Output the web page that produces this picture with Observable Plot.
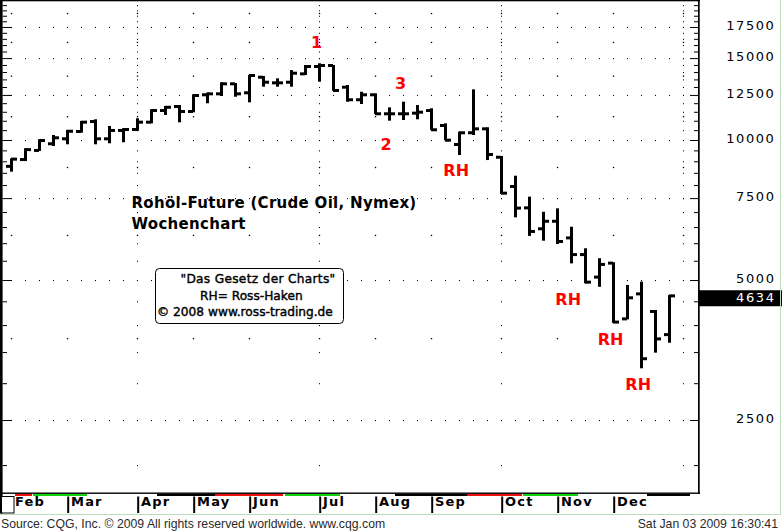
<!DOCTYPE html>
<html><head><meta charset="utf-8">
<script src="https://cdn.jsdelivr.net/npm/d3@7"></script>
<script src="https://cdn.jsdelivr.net/npm/@observablehq/plot@0.6"></script>
<style>
html,body{margin:0;padding:0;background:#fff;}
#chart{width:782px;height:532px;overflow:hidden;}
</style></head><body><div id="chart"></div>
<script>
// ---- data ----
const weeks = ["2008-02-04","2008-02-11","2008-02-18","2008-02-25","2008-03-03","2008-03-10","2008-03-17","2008-03-24","2008-03-31","2008-04-07","2008-04-14","2008-04-21","2008-04-28","2008-05-05","2008-05-12","2008-05-19","2008-05-26","2008-06-02","2008-06-09","2008-06-16","2008-06-23","2008-06-30","2008-07-07","2008-07-14","2008-07-21","2008-07-28","2008-08-04","2008-08-11","2008-08-18","2008-08-25","2008-09-01","2008-09-08","2008-09-15","2008-09-22","2008-09-29","2008-10-06","2008-10-13","2008-10-20","2008-10-27","2008-11-03","2008-11-10","2008-11-17","2008-11-24","2008-12-01","2008-12-08","2008-12-15","2008-12-22","2008-12-29"];
const open  = [8800,9100,9520,9840,10085,10455,10985,10085,10510,10560,10950,11600,11835,11545,12540,12600,13240,12665,13680,13305,13345,13910,14425,14495,13020,12235,12540,11415,11415,11450,11600,10770,9805,10390,10595,9205,7965,7165,6460,6705,6175,5685,5085,5450,4135,4680,4290,3825];
const high  = [9130,9600,10035,10250,10510,10990,11080,10720,10600,11135,11640,11835,11890,12540,12640,13305,13260,13810,13730,13570,14140,14495,14620,14500,13130,12700,12600,11755,12090,11890,11700,10860,10420,12850,10650,9240,8380,7555,7010,7130,6510,5850,5570,5460,4880,4960,4310,4640];
const low   = [8550,9010,9470,9710,9790,10370,9790,9840,9890,10470,10860,11320,10915,11470,11995,12435,12390,12050,13020,13020,13020,13795,13345,12765,12090,11950,11375,11005,11040,11080,10510,9985,9285,10250,9055,7655,6820,6220,6075,5975,5430,4920,4835,4045,4115,3230,3490,3665];
const close = [9120,9560,10000,10135,10470,10950,10085,10510,10560,10950,11600,11790,11545,12495,12600,13240,12600,13795,13345,13305,13955,14425,14495,12810,12235,12540,11415,11415,11415,11505,10545,10015,10390,10595,9330,7705,7155,6375,6705,6065,5685,4960,5415,4070,4590,3395,3745,4634];
const lastPrice = 4634;

const monthStarts = ["2008-02-04","2008-03-03","2008-04-07","2008-05-05","2008-06-02","2008-07-07","2008-08-04","2008-09-01","2008-10-06","2008-11-03","2008-12-01"];
const monthNames  = ["Feb","Mar","Apr","May","Jun","Jul","Aug","Sep","Oct","Nov","Dec"];
const gridWeeks = weeks.concat(["2009-01-05"]);
const gridMonths = monthStarts.concat(["2009-01-05"]);
const quarterStarts = ["2008-04-07","2008-07-07","2008-10-06","2009-01-05"];

const axisValues = [17500,15000,12500,10000,7500,5000,2500];
const axisLabels = ["17500","15000","12500","10000","7500","5000","2500"];
const minorGridValues = [3750,6250,8750,11250,13750,16250,18750];
const tickValues = [2000,2500,3000,3500,4000,4500,5000,5500,6000,6500,7000,7500,8000,8500,9000,9500,10000,10500,11000,11500,12000,12500,13000,13500,14000,14500,15000,15500,16000,16500,17000,17500,18000,18500,19000,19500];

const stripStart = ["2008-02-06","2008-02-15","2008-03-13T12:00Z","2008-04-17","2008-05-16","2008-06-20","2008-07-17T12:00Z","2008-08-14","2008-09-19","2008-10-17","2008-11-13T12:00Z","2008-12-18"];
const stripEnd   = ["2008-02-14T12:00Z","2008-03-13","2008-04-17","2008-05-16","2008-06-19","2008-07-17T12:00Z","2008-08-14","2008-09-19","2008-10-16T12:00Z","2008-11-13T12:00Z","2008-12-18","2009-01-08T12:00Z"];
const stripColor = ["#e81010","#10d010","#ffffff","#000000","#e81010","#10d010","#ffffff","#000000","#e81010","#10d010","#ffffff","#000000"];

const annLabels = ["1","2","3","RH","RH","RH","RH"];
const annDates  = ["2008-07-05T12:00Z","2008-08-09T08:00Z","2008-08-16T12:00Z","2008-09-13T08:00Z","2008-11-08T08:00Z","2008-11-29T12:00Z","2008-12-13T08:00Z"];
const annValues = [16240,9800,13260,8620,4551,3728,2984];

const titleLines = ["Rohöl-Future (Crude Oil, Nymex)","Wochenchart"];
const boxLines = ["\"Das Gesetz der Charts\"","RH= Ross-Haken","© 2008 www.ross-trading.de"];
const sourceText = "Source: CQG, Inc. © 2009 All rights reserved worldwide. www.cqg.com";
const stampText = "Sat Jan 03 2009 16:30:41";

// ---- build ----
const DAY = 864e5;
const D = s => new Date(s);
const bars = weeks.map((w,i)=>({date: D(w), open: open[i], high: high[i], low: low[i], close: close[i]}));
const strip = stripStart.map((s,i)=>({x1: D(s), x2: D(stripEnd[i]), color: stripColor[i]}));
const anns = annLabels.map((t,i)=>({text: t, date: D(annDates[i]), value: annValues[i]}));
const majorDots = d3.cross(gridWeeks, axisValues).map(([w,v])=>({date: D(w), value: v}));
const minorDots = d3.cross(gridMonths, minorGridValues).map(([w,v])=>({date: D(w), value: v}));
const vertDots = d3.cross(quarterStarts, tickValues).map(([w,v])=>({date: D(w), value: v}));
const majorSet = new Set(axisValues);
const boxText = {frameAnchor: "top-left", lineAnchor: "middle", textAnchor: "start", fontSize: 12.2, fill: "black", stroke: "black", strokeWidth: 0.4};

const chart = Plot.plot({
  width: 782, height: 532,
  marginLeft: 5, marginRight: 85, marginTop: 0, marginBottom: 39,
  style: {background: "white", fontFamily: "DejaVu Sans", overflow: "visible"},
  x: {type: "utc", domain: [D("2008-02-01"), D("2009-01-12")], axis: null},
  y: {type: "log", domain: [1742, 20000], axis: null},
  color: {type: "identity"},
  marks: [
    Plot.dot(majorDots, {x: "date", y: "value", symbol: "square", r: 0.6, fill: "black", stroke: "none"}),
    Plot.dot(minorDots, {x: "date", y: "value", symbol: "square", r: 0.75, fill: "black", stroke: "none"}),
    Plot.dot(vertDots, {x: "date", y: "value", symbol: "square", r: 0.6, fill: "black", stroke: "none"}),
    // axis ticks left/right
    Plot.ruleY(tickValues.filter(v=>!majorSet.has(v)), {stroke: "black", insetLeft: -2.5, insetRight: 690}),
    Plot.ruleY(axisValues, {stroke: "black", insetLeft: -2.5, insetRight: 686}),
    Plot.ruleY(tickValues.filter(v=>!majorSet.has(v)), {stroke: "black", insetLeft: 689, insetRight: -1}),
    Plot.ruleY(axisValues, {stroke: "black", insetLeft: 685, insetRight: -1}),
    // OHLC bars
    Plot.ruleX(bars, {x: "date", y1: "low", y2: "high", stroke: "black", strokeWidth: 3}),
    Plot.ruleY(bars, {y: "open", x1: d => new Date(+d.date - 2.5*DAY), x2: "date", stroke: "black", strokeWidth: 3}),
    Plot.ruleY(bars, {y: "close", x1: "date", x2: d => new Date(+d.date + 3*DAY), stroke: "black", strokeWidth: 3}),
    // contract strip
    Plot.rect(strip, {x1: "x1", x2: "x2", fill: "color", insetTop: 493.7, insetBottom: -3}),
    // month separators & labels
    Plot.ruleX(monthStarts.slice(1).map(D), {x: d => d, dx: 0.7, stroke: "black", strokeWidth: 2, insetTop: 496.5, insetBottom: -20}),
    Plot.text(monthStarts.map(D), {x: d => d, text: (d,i) => monthNames[i], frameAnchor: "bottom", dy: 12, dx: 3.5, textAnchor: "start", fontWeight: "bold", fontSize: 13, fill: "black"}),
    // right price labels
    Plot.text(axisValues, {y: d => d, text: (d,i) => axisLabels[i], frameAnchor: "right", dx: 78, dy: -1.5, textAnchor: "end", fontSize: 13, fill: "black"}),
    Plot.ruleY([lastPrice], {stroke: "black", strokeWidth: 16, dy: 2.5, insetLeft: 694, insetRight: -85}),
    Plot.text([lastPrice], {y: d => d, text: d => String(d), frameAnchor: "right", dx: 78, dy: 2, textAnchor: "end", fontSize: 13, fill: "white"}),
    // annotations
    Plot.text(anns, {x: "date", y: "value", text: "text", fill: "#ff0000", fontWeight: "bold", fontSize: 16}),
    // title
    Plot.text([titleLines[0]], {frameAnchor: "top-left", dx: 126, dy: 203, lineAnchor: "middle", textAnchor: "start", fontWeight: "bold", fontSize: 15, fill: "black"}),
    Plot.text([titleLines[1]], {frameAnchor: "top-left", dx: 126, dy: 224, lineAnchor: "middle", textAnchor: "start", fontWeight: "bold", fontSize: 15, fill: "black"}),
    // info box
    Plot.rect([0], {insetLeft: 150.5, insetRight: 353.5, insetTop: 268.5, insetBottom: 169.5, rx: 4, fill: "white", stroke: "black"}),
    Plot.text([boxLines[0]], {...boxText, dx: 175, dy: 279}),
    Plot.text([boxLines[1]], {...boxText, dx: 194.5, dy: 295.5}),
    Plot.text([boxLines[2]], {...boxText, dx: 151.5, dy: 311.5})
  ]
});
document.getElementById("chart").appendChild(chart);

const svg = d3.select(chart);
// letter spacing for the wide bitmap-like fonts of the original
const spacingFor = t => {
  if (monthNames.includes(t)) return "1.2px";
  if (axisLabels.includes(t) || t === String(lastPrice)) return "1.6px";
  if (titleLines.includes(t)) return "0.3px";
  if (t === boxLines[0]) return "0.3px";
  return null;
};
svg.selectAll("text").each(function() {
  const ls = spacingFor(this.textContent);
  if (ls) this.setAttribute("letter-spacing", ls);
});

// static frame & footer decorations
const deco = svg.append("g").attr("text-anchor", "start");
deco.append("rect").attr("x",0).attr("y",0).attr("width",700).attr("height",1.3).attr("fill","black");
deco.append("rect").attr("x",0).attr("y",492.5).attr("width",700).attr("height",1.4).attr("fill","black");
deco.append("rect").attr("x",0).attr("y",0).attr("width",2.6).attr("height",513.5).attr("fill","black");
deco.append("rect").attr("x",698).attr("y",0).attr("width",1.7).attr("height",494).attr("fill","black");
deco.append("rect").attr("x",1.5).attr("y",496.5).attr("width",12.5).attr("height",16.5).attr("fill","white").attr("stroke","black");
deco.append("line").attr("x1",0).attr("y1",514.5).attr("x2",781).attr("y2",514.5).attr("stroke","#bcdcbc");
deco.append("line").attr("x1",780.5).attr("y1",0).attr("x2",780.5).attr("y2",514.5).attr("stroke","#bcdcbc");
deco.append("text").attr("x",1).attr("y",527.5).attr("text-anchor","start").attr("font-family","Liberation Sans, Arial, sans-serif").attr("font-size",12.25).attr("fill","#2a2a2a").text(sourceText);
deco.append("text").attr("x",778).attr("y",527.5).attr("text-anchor","end").attr("font-family","Liberation Sans, Arial, sans-serif").attr("font-size",12.25).attr("fill","#2a2a2a").text(stampText);
</script></body></html>
